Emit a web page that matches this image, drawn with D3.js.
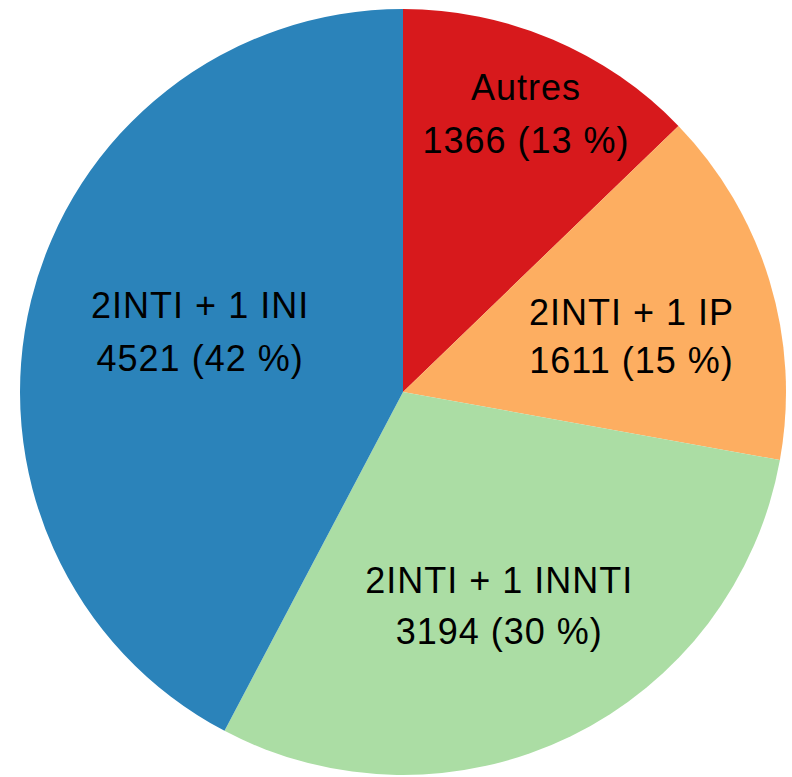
<!DOCTYPE html>
<html>
<head>
<meta charset="utf-8">
<script src="https://cdn.jsdelivr.net/npm/d3@7"></script>
<style>
  body { margin: 0; background: #fff; }
  svg { display: block; }
</style>
</head>
<body>
<svg id="chart"></svg>
<script>
// Data
const categories = ["Autres", "2INTI + 1 IP", "2INTI + 1 INNTI", "2INTI + 1 INI"];
const counts = [1366, 1611, 3194, 4521];
const percents = [13, 15, 30, 42];

// Style
const colors = ["#d7191c", "#fdae61", "#abdda4", "#2b83ba"];
const labelRadius = [0.796, 0.614, 0.611, 0.553]; // fraction of pie radius
const labelShift = [0.8, 3.2, 1.7, 2.8];          // degrees past the slice middle
const lineGaps = [53, 48, 51, 53];
const svgWidth = 792;
const svgHeight = 777;
const center = {x: 403, y: 392};
const radius = 383;
const fontSize = 36;

const svg = d3.select("#chart")
  .attr("width", svgWidth)
  .attr("height", svgHeight);

const slices = categories.map((c, i) => ({
  name: c, count: counts[i], pct: percents[i], color: colors[i],
  lr: labelRadius[i], shift: labelShift[i], gap: lineGaps[i]
}));

const pie = d3.pie()
  .value(d => d.count)
  .sort(null);

const arc = d3.arc()
  .innerRadius(0)
  .outerRadius(radius);

const g = svg.append("g")
  .attr("transform", `translate(${center.x}, ${center.y})`);

const arcs = pie(slices);

g.selectAll("path")
  .data(arcs)
  .join("path")
  .attr("d", arc)
  .attr("fill", d => d.data.color);

// Labels
const labels = g.selectAll("text")
  .data(arcs)
  .join("text")
  .attr("text-anchor", "middle")
  .attr("font-family", "'Liberation Sans', Arial, sans-serif")
  .attr("font-size", fontSize)
  .attr("letter-spacing", 1)
  .attr("fill", "#000")
  .attr("transform", d => {
    const a = (d.startAngle + d.endAngle) / 2 + d.data.shift * Math.PI / 180;
    const r = radius * d.data.lr;
    return `translate(${r * Math.sin(a)}, ${-r * Math.cos(a)})`;
  });

labels.append("tspan")
  .attr("x", 0)
  .attr("y", d => -d.data.gap / 2 + fontSize * 0.36)
  .text(d => d.data.name);

labels.append("tspan")
  .attr("x", 0)
  .attr("y", d => d.data.gap / 2 + fontSize * 0.36)
  .text(d => `${d.data.count} (${d.data.pct} %)`);
</script>
</body>
</html>
